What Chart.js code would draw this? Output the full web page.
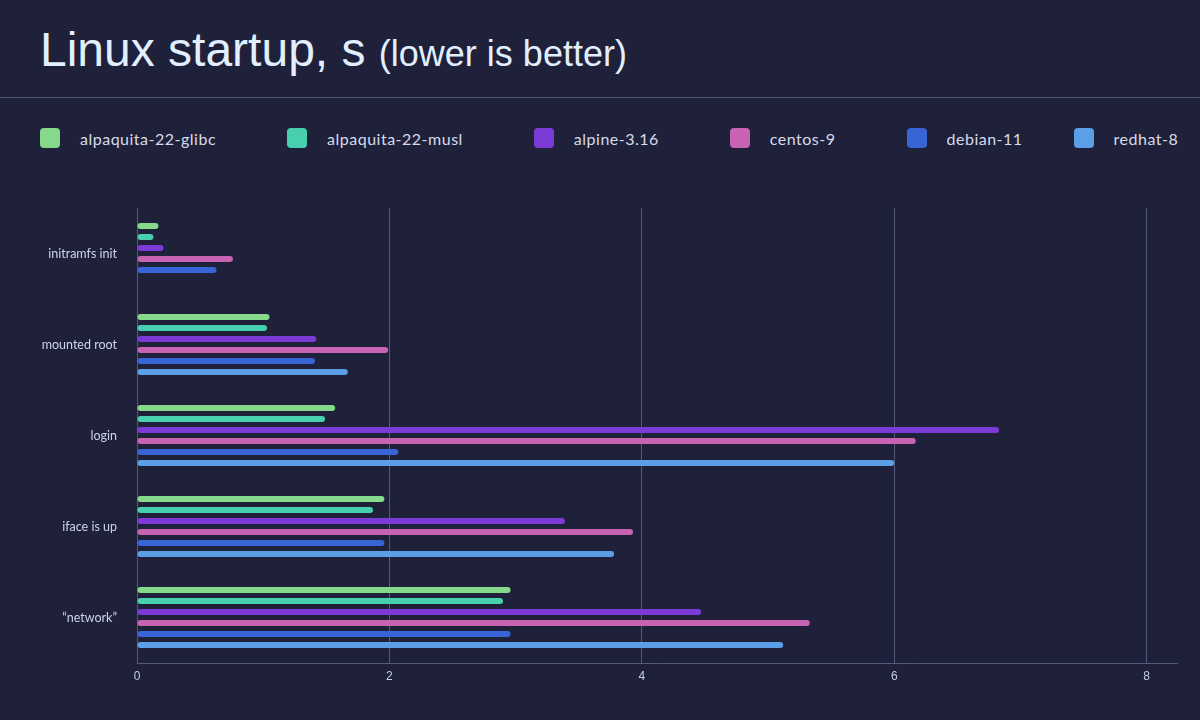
<!DOCTYPE html>
<html>
<head>
<meta charset="utf-8">
<script src="https://cdn.jsdelivr.net/npm/chart.js@4/dist/chart.umd.min.js"></script>
<style>
  html, body { margin: 0; padding: 0; background: #1e2139; }
  body { width: 1200px; height: 720px; position: relative; overflow: hidden; }
  #title { position: absolute; left: 40px; top: 20px; color: #e2efff; font-family: "Liberation Sans", Arial, sans-serif; font-size: 48px; white-space: nowrap; line-height: 60px; }
  #title small { font-size: 36px; }
  #rule { position: absolute; left: 0; top: 97px; width: 1200px; height: 1px; background: #4f5472; }
  #legend { position: absolute; left: 40px; top: 128px; display: flex; font-family: Lato, "Noto Sans", sans-serif; font-size: 16px; letter-spacing: 0.5px; color: #d6dbeb; }
  .item { display: flex; align-items: center; margin-right: 71px; height: 20px; white-space: nowrap; }
  .item:nth-child(5) { margin-right: 51px; }
  .box { width: 20px; height: 20px; border-radius: 4px; margin-right: 20px; }
  #wrap { position: absolute; left: 0; top: 0; width: 1200px; height: 720px; }
</style>
</head>
<body>
<div id="title">Linux startup, s <small>(lower is better)</small></div>
<div id="rule"></div>
<div id="legend"></div>
<div id="wrap"><canvas id="c" width="1200" height="720"></canvas></div>
<script>
const categories = ["initramfs init", "mounted root", "login", "iface is up", "\u201cnetwork\u201d"];
const seriesNames = ["alpaquita-22-glibc", "alpaquita-22-musl", "alpine-3.16", "centos-9", "debian-11", "redhat-8"];
const alpaquitaGlibc = [0.17, 1.05, 1.57, 1.96, 2.96];
const alpaquitaMusl  = [0.13, 1.03, 1.49, 1.87, 2.90];
const alpine316      = [0.21, 1.42, 6.83, 3.39, 4.47];
const centos9        = [0.76, 1.99, 6.17, 3.93, 5.33];
const debian11       = [0.63, 1.41, 2.07, 1.96, 2.96];
const redhat8        = [null, 1.67, 6.00, 3.78, 5.12];
const xTicks = [0, 2, 4, 6, 8];

const seriesValues = [alpaquitaGlibc, alpaquitaMusl, alpine316, centos9, debian11, redhat8];
const colors = ["#86d98a", "#48cfad", "#7c3ad7", "#c763b2", "#3864d6", "#5b9fe7"];

const legend = document.getElementById('legend');
seriesNames.forEach((n, i) => {
  const it = document.createElement('div'); it.className = 'item';
  const b = document.createElement('div'); b.className = 'box'; b.style.background = colors[i];
  const t = document.createElement('span'); t.textContent = n;
  it.appendChild(b); it.appendChild(t); legend.appendChild(it);
});

const grid = '#545a7a';
new Chart(document.getElementById('c'), {
  type: 'bar',
  data: {
    labels: categories,
    datasets: seriesNames.map((n, i) => ({
      label: n,
      data: seriesValues[i],
      backgroundColor: colors[i],
      borderRadius: 3,
      borderSkipped: false,
      categoryPercentage: 0.725,
      barPercentage: 0.55
    }))
  },
  options: {
    indexAxis: 'y',
    responsive: false,
    animation: false,
    layout: { padding: { top: 208, right: 23, left: 0, bottom: 0 } },
    plugins: { legend: { display: false }, title: { display: false }, tooltip: { enabled: false } },
    scales: {
      x: {
        min: 0, max: 8.24,
        afterFit: s => { s.height = 57; },
        afterBuildTicks: s => { s.ticks = xTicks.map(v => ({ value: v })); },
        ticks: { color: '#c9cee2', font: { family: 'Liberation Sans', size: 12 }, padding: 6 },
        grid: { color: grid, drawTicks: false, lineWidth: 1 },
        border: { display: true, color: grid, width: 1 }
      },
      y: {
        afterFit: s => { s.width = 137; },
        ticks: { color: '#cfd4e6', font: { family: 'Lato', size: 12.5 }, padding: 20 },
        grid: { display: false, drawTicks: false },
        border: { display: true, color: grid, width: 1 }
      }
    }
  }
});
</script>
</body>
</html>
